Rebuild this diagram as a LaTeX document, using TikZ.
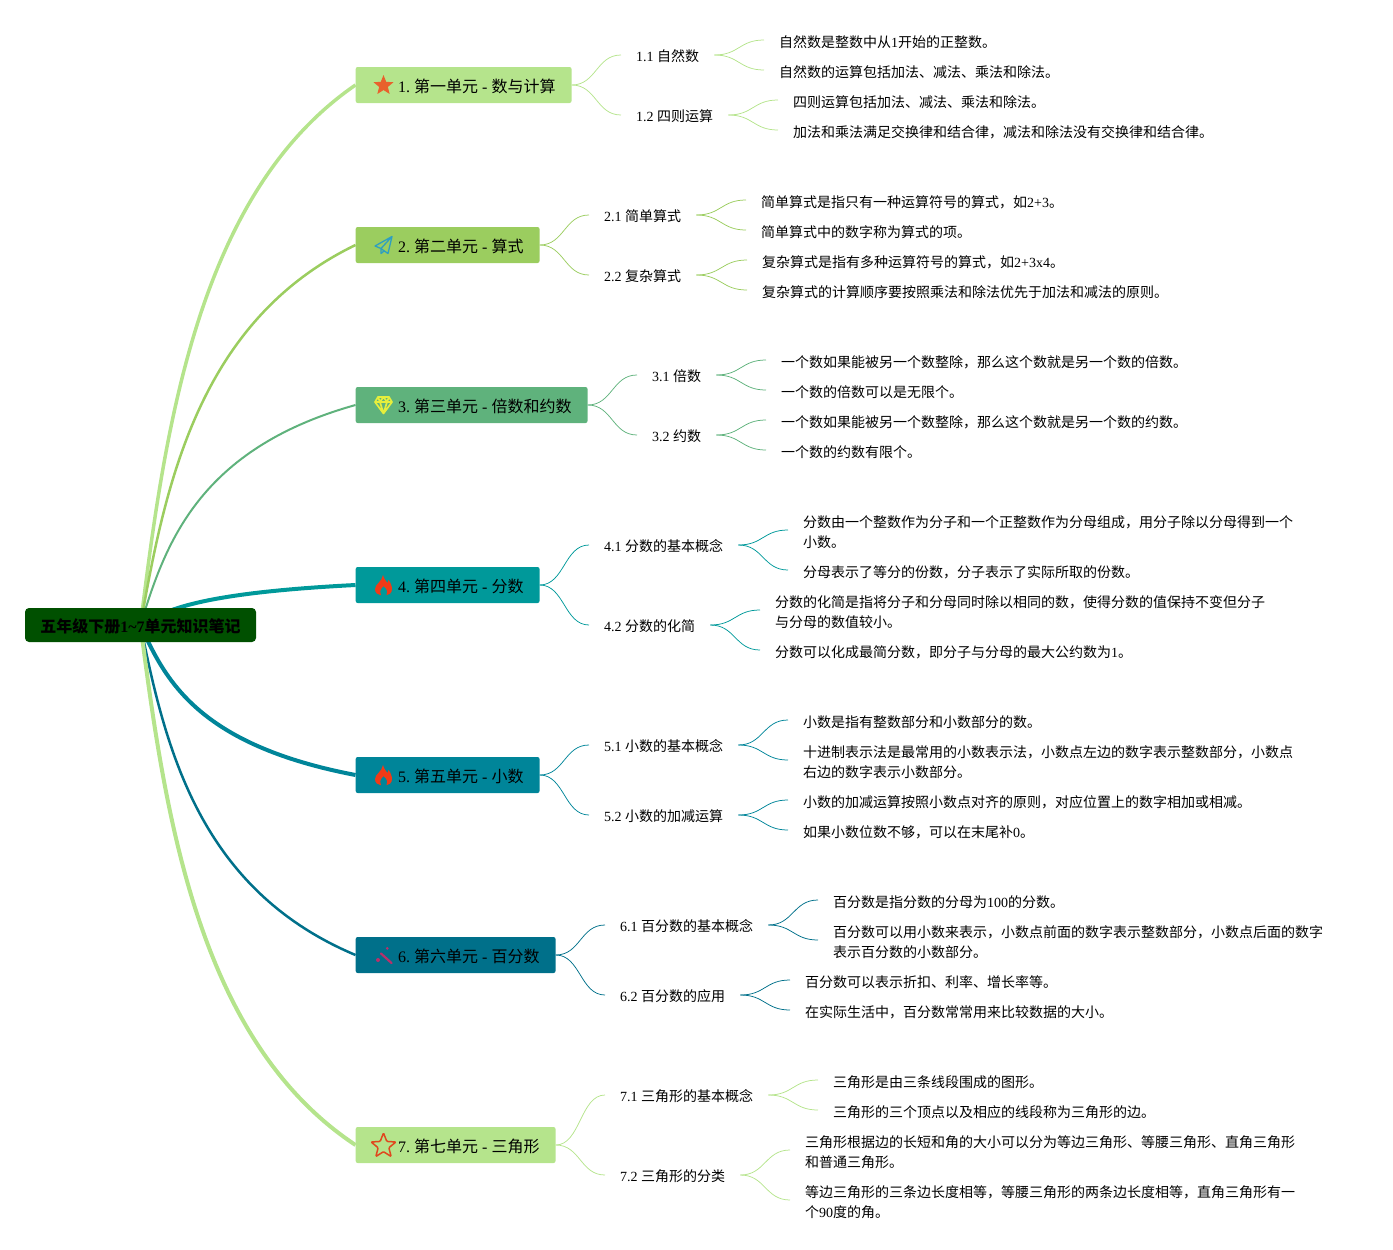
\documentclass[tikz,border=0pt]{standalone}
\usepackage{fontspec}
\usetikzlibrary{calc,backgrounds,shapes.geometric}
\setmainfont{Liberation Serif}
\newfontfamily\cjkfont{Noto Sans CJK SC}
\newfontfamily\latfont{Liberation Serif}
\frenchspacing
\XeTeXinterchartokenstate=1
\newXeTeXintercharclass\cjkclass
\count255="3000
\loop\ifnum\count255<"3040 \XeTeXcharclass\count255=\cjkclass \advance\count255 by 1 \repeat
\count255="4E00
\loop\ifnum\count255<"A000 \XeTeXcharclass\count255=\cjkclass \advance\count255 by 1 \repeat
\count255="FF00
\loop\ifnum\count255<"FF60 \XeTeXcharclass\count255=\cjkclass \advance\count255 by 1 \repeat
\XeTeXinterchartoks 0 \cjkclass={\cjkfont}
\XeTeXinterchartoks 4095 \cjkclass={\cjkfont}
\XeTeXinterchartoks \cjkclass 0={\latfont}
\XeTeXinterchartoks \cjkclass 4095={\latfont}
\definecolor{cA}{HTML}{B5E48C}
\definecolor{cB}{HTML}{9BCD5F}
\definecolor{cC}{HTML}{5FB27C}
\definecolor{cD}{HTML}{00999A}
\definecolor{cE}{HTML}{008599}
\definecolor{cF}{HTML}{00708A}
\definecolor{rootgreen}{HTML}{005000}
\definecolor{icostar}{HTML}{E8612C}
\definecolor{icoplane}{HTML}{2E9FC0}
\definecolor{icogem}{HTML}{E6EE3C}
\definecolor{icoflame}{HTML}{F03A17}
\definecolor{icowand}{HTML}{B8306A}
\definecolor{icoring}{HTML}{E0481E}
\tikzset{
  rootbox/.style={fill=rootgreen,rounded corners=4pt,minimum height=34pt,minimum width=231pt,inner sep=0pt,
    font=\fontsize{16}{20}\selectfont\bfseries,text=black,text height=17pt,text depth=2pt},
  mainbox/.style={rounded corners=2pt,minimum height=36pt,inner xsep=16pt,inner ysep=0pt,anchor=west,
    font=\fontsize{16}{20}\selectfont,text=black,text height=17pt,text depth=2pt},
  subnode/.style={anchor=west,inner xsep=15pt,inner ysep=2pt,font=\fontsize{14}{20}\selectfont,text=black,text height=14pt,text depth=2pt},
  leafnode/.style={anchor=west,yshift=-2pt,inner xsep=15pt,inner ysep=2pt,font=\fontsize{14}{20}\selectfont,text=black,align=left},
  rootlink/.style={to path={let \p1=(\tikztostart),\p2=(\tikztotarget) in
    .. controls ({\x1+0.115*(\x2-\x1)},{\y1+0.37*(\y2-\y1)}) and ({\x1+0.27*(\x2-\x1)},{\y1+0.8*(\y2-\y1)}) .. (\tikztotarget)}},
  sbranch/.style={line width=0.75pt,to path={let \p1=(\tikztostart),\p2=(\tikztotarget) in
    .. controls ({\x1+0.5*(\x2-\x1)},{\y1}) and ({\x1+0.5*(\x2-\x1)},{\y2}) .. (\tikztotarget)}},
  iconline/.style={line width=1.3pt,line join=round,line cap=round},
}
\newcommand{\mm}[1]{\hspace*{26.5pt}#1}
\newcommand{\flamepath}[1]{%
  \fill[#1] (383,-10) .. controls (384,-6) and (386,-4) .. (387.5,-2) .. controls (388,-3) and (388.5,-4) .. (388.5,-5)
   .. controls (391,-2) and (392,2) .. (392,4) .. controls (392,8) and (389,10) .. (386.5,10.3)
   .. controls (388,8) and (388,5) .. (383.5,1) .. controls (379.5,5) and (379.5,8) .. (381,10.3)
   .. controls (378,10) and (375,8) .. (375,4) .. controls (375,-1) and (382,-3) .. (383,-10) -- cycle;}
\begin{document}
\begin{tikzpicture}[x=1pt,y=-1pt]
\useasboundingbox (0,0) rectangle (1393,1250);
\node[rootbox] (root) at (140.5,625) {五年级下册1\textasciitilde7单元知识笔记};
\node[mainbox,fill=cA] (m1) at (355.5,85) {\mm{1. 第一单元 - 数与计算}};
\node[mainbox,fill=cB] (m2) at (355.5,245) {\mm{2. 第二单元 - 算式}};
\node[mainbox,fill=cC] (m3) at (355.5,405) {\mm{3. 第三单元 - 倍数和约数}};
\node[mainbox,fill=cD] (m4) at (355.5,585) {\mm{4. 第四单元 - 分数}};
\node[mainbox,fill=cE] (m5) at (355.5,775) {\mm{5. 第五单元 - 小数}};
\node[mainbox,fill=cF] (m6) at (355.5,955) {\mm{6. 第六单元 - 百分数}};
\node[mainbox,fill=cA] (m7) at (355.5,1145) {\mm{7. 第七单元 - 三角形}};
% level 2
\node[subnode] (s11) at (621,55) {1.1 自然数};
\node[subnode] (s12) at (621,115) {1.2 四则运算};
\node[subnode] (s21) at (589,215) {2.1 简单算式};
\node[subnode] (s22) at (589,275) {2.2 复杂算式};
\node[subnode] (s31) at (637,375) {3.1 倍数};
\node[subnode] (s32) at (637,435) {3.2 约数};
\node[subnode] (s41) at (589,545) {4.1 分数的基本概念};
\node[subnode] (s42) at (589,625) {4.2 分数的化简};
\node[subnode] (s51) at (589,745) {5.1 小数的基本概念};
\node[subnode] (s52) at (589,815) {5.2 小数的加减运算};
\node[subnode] (s61) at (605,925) {6.1 百分数的基本概念};
\node[subnode] (s62) at (605,995) {6.2 百分数的应用};
\node[subnode] (s71) at (605,1095) {7.1 三角形的基本概念};
\node[subnode] (s72) at (605,1175) {7.2 三角形的分类};
% leaves
\node[leafnode] (l111) at (764,40) {自然数是整数中从1开始的正整数。};
\node[leafnode] (l112) at (764,70) {自然数的运算包括加法、减法、乘法和除法。};
\node[leafnode] (l121) at (778,100) {四则运算包括加法、减法、乘法和除法。};
\node[leafnode] (l122) at (778,130) {加法和乘法满足交换律和结合律，减法和除法没有交换律和结合律。};
\node[leafnode] (l211) at (746,200) {简单算式是指只有一种运算符号的算式，如2+3。};
\node[leafnode] (l212) at (746,230) {简单算式中的数字称为算式的项。};
\node[leafnode] (l221) at (747,260) {复杂算式是指有多种运算符号的算式，如2+3x4。};
\node[leafnode] (l222) at (747,290) {复杂算式的计算顺序要按照乘法和除法优先于加法和减法的原则。};
\node[leafnode] (l311) at (766,360) {一个数如果能被另一个数整除，那么这个数就是另一个数的倍数。};
\node[leafnode] (l312) at (766,390) {一个数的倍数可以是无限个。};
\node[leafnode] (l321) at (766,420) {一个数如果能被另一个数整除，那么这个数就是另一个数的约数。};
\node[leafnode] (l322) at (766,450) {一个数的约数有限个。};
\node[leafnode] (l411) at (788,530) {分数由一个整数作为分子和一个正整数作为分母组成，用分子除以分母得到一个\\小数。};
\node[leafnode] (l412) at (788,570) {分母表示了等分的份数，分子表示了实际所取的份数。};
\node[leafnode] (l421) at (760,610) {分数的化简是指将分子和分母同时除以相同的数，使得分数的值保持不变但分子\\与分母的数值较小。};
\node[leafnode] (l422) at (760,650) {分数可以化成最简分数，即分子与分母的最大公约数为1。};
\node[leafnode] (l511) at (788,720) {小数是指有整数部分和小数部分的数。};
\node[leafnode] (l512) at (788,760) {十进制表示法是最常用的小数表示法，小数点左边的数字表示整数部分，小数点\\右边的数字表示小数部分。};
\node[leafnode] (l521) at (788,800) {小数的加减运算按照小数点对齐的原则，对应位置上的数字相加或相减。};
\node[leafnode] (l522) at (788,830) {如果小数位数不够，可以在末尾补0。};
\node[leafnode] (l611) at (818,900) {百分数是指分数的分母为100的分数。};
\node[leafnode] (l612) at (818,940) {百分数可以用小数来表示，小数点前面的数字表示整数部分，小数点后面的数字\\表示百分数的小数部分。};
\node[leafnode] (l621) at (790,980) {百分数可以表示折扣、利率、增长率等。};
\node[leafnode] (l622) at (790,1010) {在实际生活中，百分数常常用来比较数据的大小。};
\node[leafnode] (l711) at (818,1080) {三角形是由三条线段围成的图形。};
\node[leafnode] (l712) at (818,1110) {三角形的三个顶点以及相应的线段称为三角形的边。};
\node[leafnode] (l721) at (790,1150) {三角形根据边的长短和角的大小可以分为等边三角形、等腰三角形、直角三角形\\和普通三角形。};
\node[leafnode] (l722) at (790,1200) {等边三角形的三条边长度相等，等腰三角形的两条边长度相等，直角三角形有一\\个90度的角。};
% connectors
\begin{pgfonlayer}{background}
\draw[cA,line width=3.5pt,rootlink] (root.center) to (m1.west);
\draw[cB,line width=2.5pt,rootlink] (root.center) to (m2.west);
\draw[cC,line width=2pt,rootlink] (root.center) to (m3.west);
\draw[cD,line width=4pt,rootlink] (root.center) to (m4.west);
\draw[cE,line width=4pt,rootlink] (root.center) to (m5.west);
\draw[cF,line width=2.5pt,rootlink] (root.center) to (m6.west);
\draw[cA,line width=4pt,rootlink] (root.center) to (m7.west);
\foreach \a/\b/\c in {m1/s11/cA,m1/s12/cA,m2/s21/cB,m2/s22/cB,m3/s31/cC,m3/s32/cC,
  m4/s41/cD,m4/s42/cD,m5/s51/cE,m5/s52/cE,m6/s61/cF,m6/s62/cF,m7/s71/cA,m7/s72/cA}
  {\draw[\c,sbranch] (\a.east) to (\b.west);}
\foreach \a/\b/\c in {s11/l111/cA,s11/l112/cA,s12/l121/cA,s12/l122/cA,
  s21/l211/cB,s21/l212/cB,s22/l221/cB,s22/l222/cB,
  s31/l311/cC,s31/l312/cC,s32/l321/cC,s32/l322/cC,
  s41/l411/cD,s41/l412/cD,s42/l421/cD,s42/l422/cD,
  s51/l511/cE,s51/l512/cE,s52/l521/cE,s52/l522/cE,
  s61/l611/cF,s61/l612/cF,s62/l621/cF,s62/l622/cF,
  s71/l711/cA,s71/l712/cA,s72/l721/cA,s72/l722/cA}
  {\draw[\c,sbranch] (\a.east) to ([yshift=2pt]\b.west);}
\end{pgfonlayer}
% icons
\node[star,star points=5,star point ratio=2.3,fill=icostar,minimum size=21pt,inner sep=0pt] (iconA) at (383.5,85.5) {};
\draw[iconline,color=icoplane] (392,236.5) -- (375,246) -- (381,248.5) -- cycle
  (392,236.5) -- (388,253.5) -- (381.5,249) (381,248.5) -- (381,253.5) -- (384,251);
\draw[iconline,line width=1.7pt,color=icogem] (378,397) -- (389,397) -- (392,402) -- (383.5,413.5) -- (375,402) -- cycle
  (375,402) -- (392,402) (378,397) -- (380,402) -- (383.5,413.5) -- (387,402) -- (389,397)
  (380,402) -- (383.5,397) -- (387,402);
\begin{scope}[yshift=-585pt]\flamepath{icoflame}\end{scope}
\begin{scope}[yshift=-775pt]\flamepath{icoflame}\end{scope}
\draw[icowand,line width=2.2pt,line cap=round] (381,953.5) -- (391.5,963);
\fill[icowand] (387.3,948.3) circle (1.5pt) (378,960) circle (2pt);
\node[star,star points=5,star point ratio=2.3,draw=icoring,line width=1.5pt,rounded corners=1pt,minimum size=26pt,inner sep=0pt] (iconG) at (383.5,1146) {};
\end{tikzpicture}
\end{document}
